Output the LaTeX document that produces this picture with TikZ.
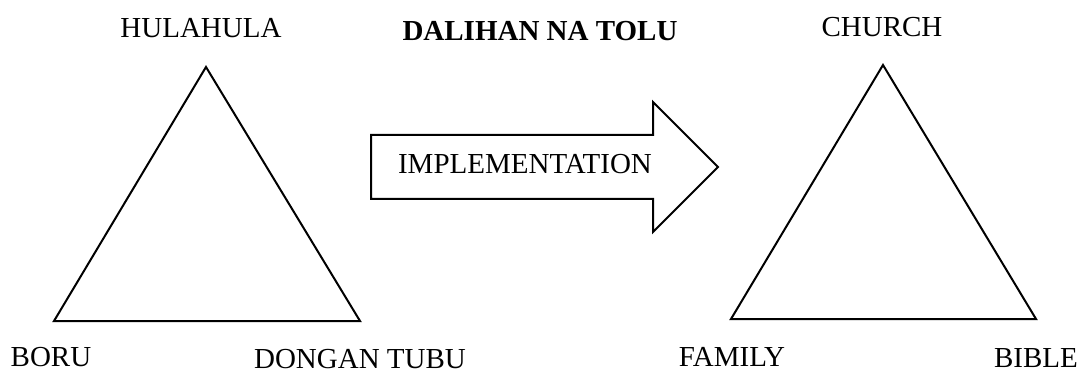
\documentclass[tikz,border=0pt]{standalone}
\usepackage{fontspec}
\setmainfont{Liberation Serif}
\begin{document}
\begin{tikzpicture}[x=1pt,y=-1pt,
  lbl/.style={inner sep=0pt,font=\fontsize{29}{32}\selectfont},
  shapeline/.style={draw=black,line width=2pt,line join=miter}]
\useasboundingbox (0,0) rectangle (1085,374);
% left triangle
\coordinate (L1) at (206,67);
\coordinate (L2) at (54,321);
\coordinate (L3) at (360,321);
\draw[shapeline] (L1) -- (L2) -- (L3) -- cycle;
% right triangle
\coordinate (R1) at (883,65);
\coordinate (R2) at (731,319);
\coordinate (R3) at (1036,319);
\draw[shapeline] (R1) -- (R2) -- (R3) -- cycle;
% arrow
\coordinate (A1) at (371,135);
\coordinate (A2) at (653,135);
\coordinate (A3) at (653,102);
\coordinate (A4) at (718,167);
\coordinate (A5) at (653,232);
\coordinate (A6) at (653,199);
\coordinate (A7) at (371,199);
\draw[shapeline] (A1) -- (A2) -- (A3) -- (A4) -- (A5) -- (A6) -- (A7) -- cycle;
% labels
\node[lbl] (hula) at (201,28) {HULAHULA};
\node[lbl,font=\fontsize{29}{32}\selectfont\bfseries] (title) at (540,31) {DALIHAN NA TOLU};
\node[lbl] (church) at (882,27) {CHURCH};
\node[lbl] (impl) at (525,164) {IMPLEMENTATION};
\node[lbl] (boru) at (51,357) {BORU};
\node[lbl] (dongan) at (360,359) {DONGAN TUBU};
\node[lbl] (family) at (732,357) {FAMILY};
\node[lbl] (bible) at (1036,358) {BIBLE};
\end{tikzpicture}
\end{document}
